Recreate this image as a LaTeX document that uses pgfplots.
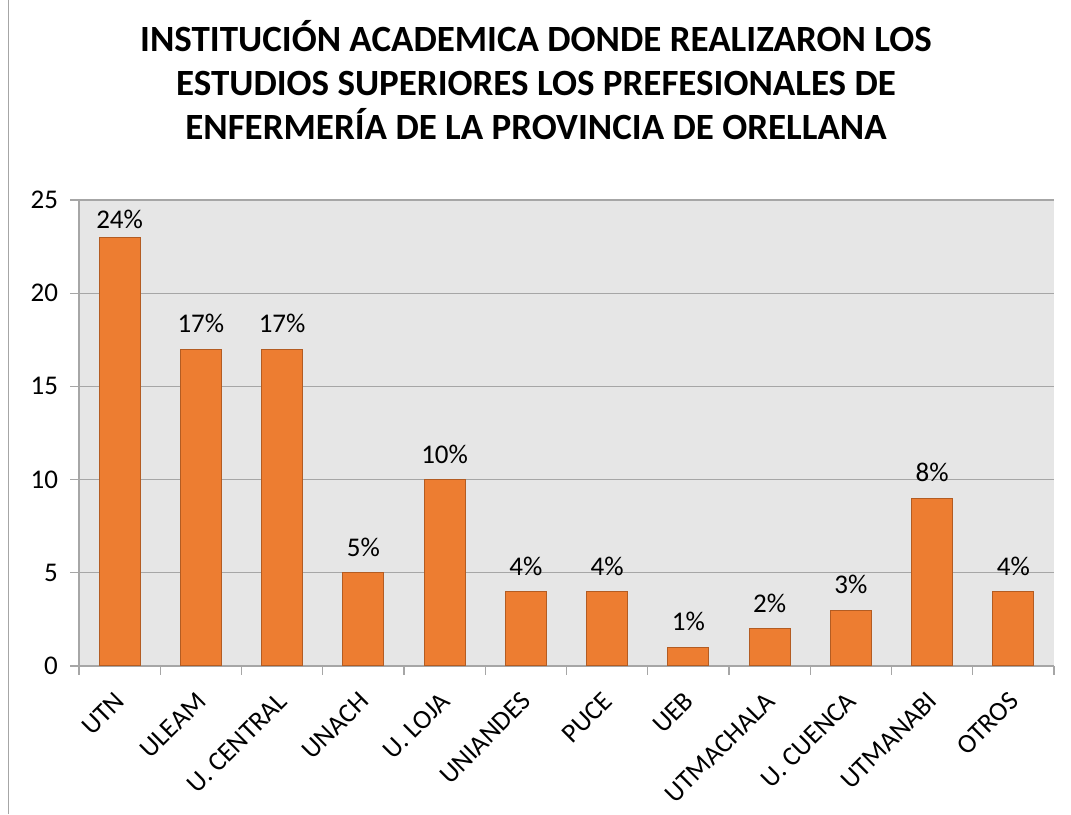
\documentclass[border=0pt]{standalone}
\usepackage{pgfplots}
\pgfplotsset{compat=1.18}
\usepackage{pgfplotstable}
\usepackage{fontspec}
\setmainfont{Carlito}
\definecolor{barfill}{HTML}{ED7D31}
\definecolor{baredge}{HTML}{B35C22}
\definecolor{plotbg}{HTML}{E6E6E6}
\definecolor{gridc}{HTML}{A6A6A6}
\pgfplotstableread{
x y lab
0 23 24\%
}\firsttable
\pgfplotstableread{
x y lab
1 17 17\%
2 17 17\%
3 5 5\%
4 10 10\%
5 4 4\%
6 4 4\%
7 1 1\%
8 2 2\%
9 3 3\%
10 9 8\%
11 4 4\%
}\datatable
\begin{document}
\begin{tikzpicture}
\path[use as bounding box] (0,0) rectangle (535.5pt,407pt);
\fill[white] (0,0) rectangle (535.5pt,407pt);
\draw[gridc, line width=0.8pt] (4.3pt,0) -- (4.3pt,407pt);
\node[align=center, font=\bfseries\fontsize{18.5}{22}\selectfont] at (268pt,367pt)
 {INSTITUCIÓN ACADEMICA DONDE REALIZARON LOS\\ESTUDIOS SUPERIORES LOS PREFESIONALES DE\\ENFERMERÍA DE LA PROVINCIA DE ORELLANA};
\begin{axis}[
  at={(39.5pt,74pt)}, anchor=south west,
  scale only axis, width=487.5pt, height=233pt,
  xmin=-0.5, xmax=11.5, ymin=0, ymax=25,
  ytick={0,5,...,25},
  xtick={0,...,11},
  xticklabels={UTN,ULEAM,U. CENTRAL,UNACH,U. LOJA,UNIANDES,PUCE,UEB,UTMACHALA,U. CUENCA,UTMANABI,OTROS},
  x tick label style={rotate=45, anchor=north east, font=\fontsize{13.5}{15}\selectfont, xshift=-4pt},
  y tick label style={font=\fontsize{13.5}{15}\selectfont, xshift=-2.5pt},
  /pgf/number format/assume math mode=true,
  major x tick style={draw=none},
  minor xtick={-0.5,0.5,...,11.5},
  minor tick length=4.5pt,
  major tick length=4.5pt,
  tick align=outside,
  tick style={gridc, line width=0.6pt},
  axis x line*=bottom, axis y line*=left,
  axis line style={gridc, line width=0.8pt, -},
  axis background/.style={fill=plotbg},
  ymajorgrids, grid style={gridc, line width=0.6pt},
  clip=false,
]
\addplot[ybar, bar width=20.5pt, bar shift=0pt, fill=barfill, draw=baredge, line width=0.5pt,
  point meta=explicit symbolic,
  nodes near coords, nodes near coords style={font=\fontsize{13.5}{15}\selectfont, black, yshift=0.5pt}]
  table[x=x, y=y, meta=lab] {\firsttable};
\addplot[ybar, bar width=20.5pt, bar shift=0pt, fill=barfill, draw=baredge, line width=0.5pt,
  point meta=explicit symbolic,
  nodes near coords, nodes near coords style={font=\fontsize{13.5}{15}\selectfont, black, yshift=4.5pt}]
  table[x=x, y=y, meta=lab] {\datatable};
\end{axis}
\end{tikzpicture}
\end{document}
